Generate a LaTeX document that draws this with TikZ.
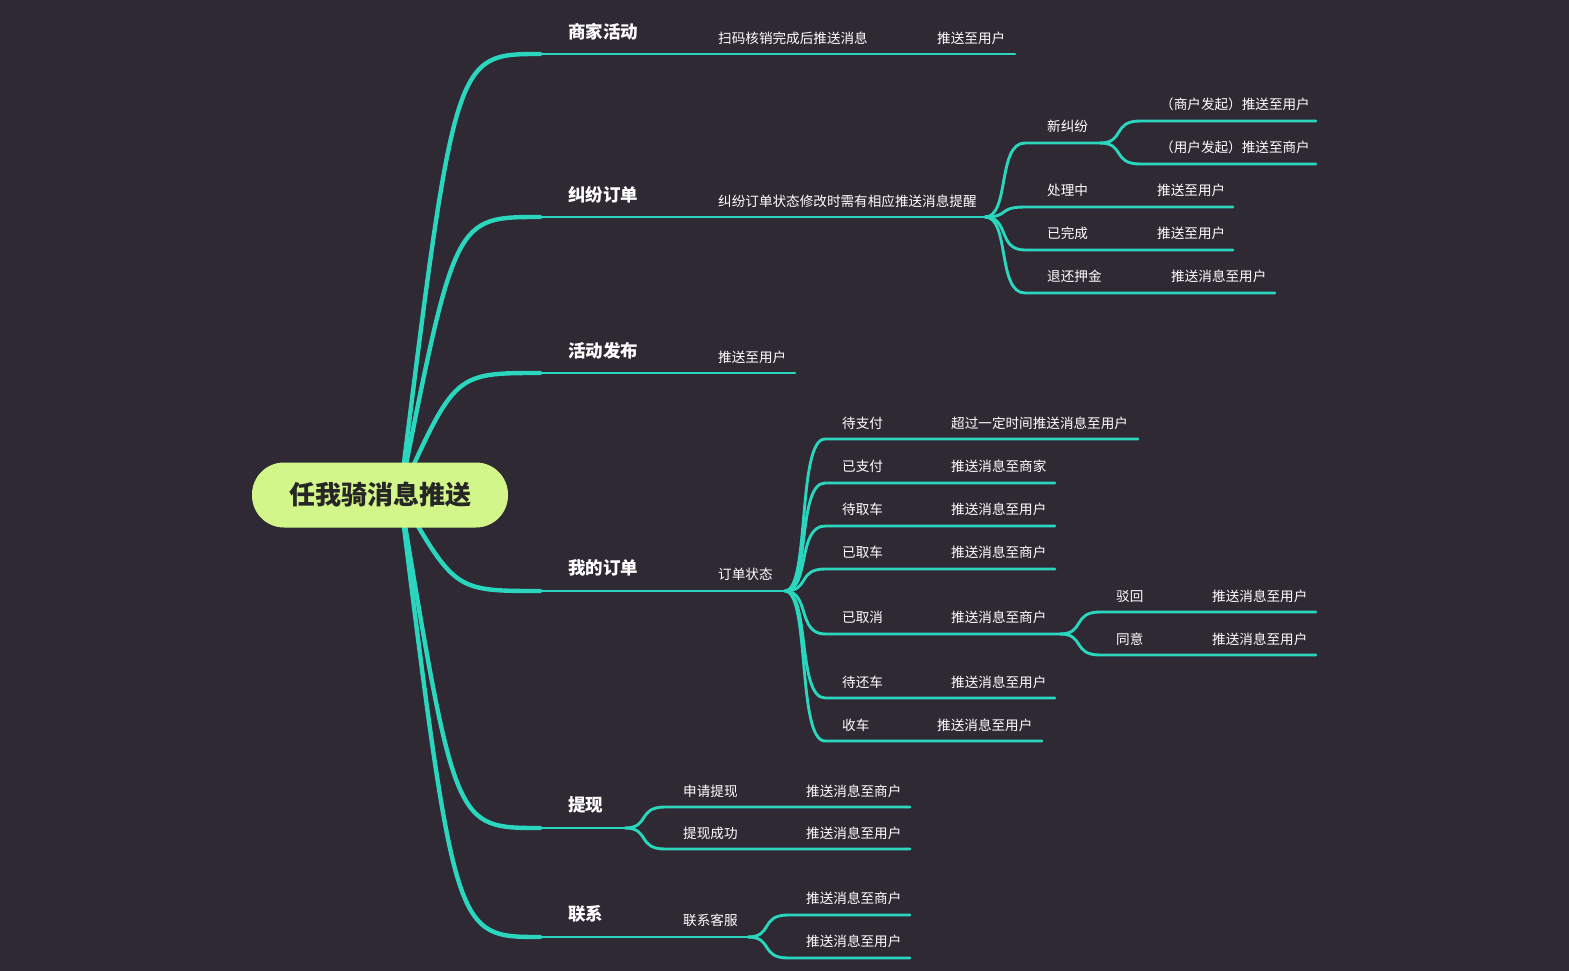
\documentclass[tikz,border=0pt]{standalone}
\usepackage{fontspec}
\setmainfont{Noto Sans CJK SC}
\begin{document}
\begin{tikzpicture}[x=1pt,y=-1pt,
  l/.style={draw=tealc,line width=2.9pt,line cap=round},
  ml/.style={draw=tealc,line width=4.4pt,line cap=round},
  t/.style={anchor=west,inner sep=0pt,text=white,font=\fontsize{13.6}{13.6}\selectfont},
  mt/.style={anchor=west,inner sep=0pt,text=white,font=\fontsize{17.5}{17.5}\selectfont\bfseries}]
\definecolor{bgc}{HTML}{2F2933}
\definecolor{tealc}{HTML}{2AD6BE}
\definecolor{rootc}{HTML}{D3F68A}
\fill[bgc] (0,0) rectangle (1569,971);
\useasboundingbox (0,0) rectangle (1569,971);
\newcommand\mb[1]{\draw[ml] (400,495) .. controls (455,#1) and (455,#1) .. (540,#1);}
\newcommand\br[4]{\draw[l] (#1,#2) .. controls ({#1+25},#2) and ({#1+12},#4) .. ({#1+40},#4) -- (#3,#4);}
% main branches
\mb{54}\mb{217}\mb{373}\mb{591}\mb{828}\mb{937}
\node[draw=none,fill=rootc,rounded corners=32pt,minimum width=256pt,minimum height=65pt,font=\fontsize{26}{26}\selectfont\bfseries,text=black!85] (root) at (380,495) {任我骑消息推送};
% 商家活动
\draw[l] (540,54) -- (1015,54);
\node[mt] (a) at (568,32) {商家活动};
\node[t] at (718,38) {扫码核销完成后推送消息};
\node[t] at (937,38) {推送至用户};
% 纠纷订单
\draw[l] (540,217) -- (985,217);
\node[mt] (b) at (568,195) {纠纷订单};
\node[t] at (718,201) {纠纷订单状态修改时需有相应推送消息提醒};
\br{985}{217}{1100}{143}\br{985}{217}{1233}{207}\br{985}{217}{1233}{250}\br{985}{217}{1275}{293}
\node[t] at (1047,126) {新纠纷};
\br{1100}{143}{1316}{121}\br{1100}{143}{1316}{164}
\node[t] at (1160,104) {（商户发起）推送至用户};
\node[t] at (1160,147) {（用户发起）推送至商户};
\node[t] at (1047,190) {处理中};\node[t] at (1157,190) {推送至用户};
\node[t] at (1047,233) {已完成};\node[t] at (1157,233) {推送至用户};
\node[t] at (1047,276) {退还押金};\node[t] at (1171,276) {推送消息至用户};
% 活动发布
\draw[l] (540,373) -- (795,373);
\node[mt] (c) at (568,351) {活动发布};
\node[t] at (718,357) {推送至用户};
% 我的订单
\draw[l] (540,591) -- (785,591);
\node[mt] (d) at (568,568) {我的订单};
\node[t] at (718,574) {订单状态};
\br{785}{591}{1138}{439}\br{785}{591}{1055}{483}\br{785}{591}{1055}{526}\br{785}{591}{1055}{569}
\br{785}{591}{1060}{634}\br{785}{591}{1055}{698}\br{785}{591}{1042}{741}
\node[t] at (842,423) {待支付};\node[t] at (951,423) {超过一定时间推送消息至用户};
\node[t] at (842,466) {已支付};\node[t] at (951,466) {推送消息至商家};
\node[t] at (842,509) {待取车};\node[t] at (951,509) {推送消息至用户};
\node[t] at (842,552) {已取车};\node[t] at (951,552) {推送消息至商户};
\node[t] at (842,617) {已取消};\node[t] at (951,617) {推送消息至商户};
\node[t] at (842,682) {待还车};\node[t] at (951,682) {推送消息至用户};
\node[t] at (842,725) {收车};\node[t] at (937,725) {推送消息至用户};
\br{1060}{634}{1316}{612}\br{1060}{634}{1316}{655}
\node[t] at (1116,596) {驳回};\node[t] at (1212,596) {推送消息至用户};
\node[t] at (1116,639) {同意};\node[t] at (1212,639) {推送消息至用户};
% 提现
\draw[l] (540,828) -- (630,828);
\node[mt] (e) at (568,805) {提现};
\br{625}{828}{910}{807}\br{625}{828}{910}{849}
\node[t] at (683,791) {申请提现};\node[t] at (806,791) {推送消息至商户};
\node[t] at (683,833) {提现成功};\node[t] at (806,833) {推送消息至用户};
% 联系
\draw[l] (540,937) -- (750,937);
\node[mt] (f) at (568,914) {联系};
\node[t] at (683,920) {联系客服};
\br{748}{937}{910}{915}\br{748}{937}{910}{958}
\node[t] at (806,898) {推送消息至商户};
\node[t] at (806,941) {推送消息至用户};
\end{tikzpicture}
\end{document}
